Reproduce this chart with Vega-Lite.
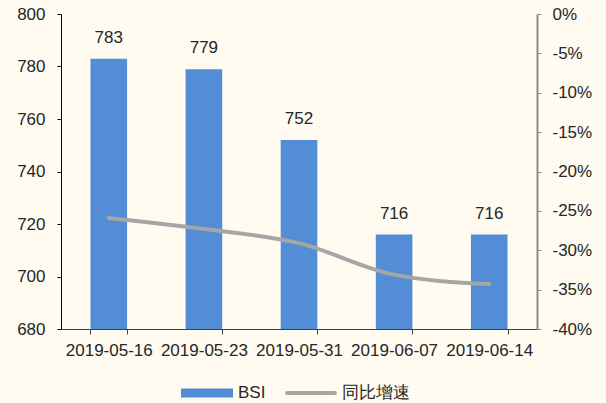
{
  "$schema": "https://vega.github.io/schema/vega-lite/v6.json",
  "width": 476,
  "height": 315,
  "autosize": {"type": "none"},
  "padding": {"left": 61, "top": 14, "right": 69, "bottom": 74},
  "background": "#FFFBF0",
  "config": {
    "view": {"stroke": null},
    "font": "Liberation Sans",
    "axis": {"grid": false, "labelFontSize": 17, "labelColor": "#262626", "title": null, "labelFont": "Liberation Sans"}
  },
  "data": {
    "values": [
      {"date": "2019-05-16", "bsi": 783, "yoy": -0.259},
      {"date": "2019-05-23", "bsi": 779, "yoy": -0.273},
      {"date": "2019-05-31", "bsi": 752, "yoy": -0.291},
      {"date": "2019-06-07", "bsi": 716, "yoy": -0.331},
      {"date": "2019-06-14", "bsi": 716, "yoy": -0.343}
    ]
  },
  "encoding": {
    "x": {
      "field": "date",
      "type": "nominal",
      "sort": null,
      "scale": {"paddingInner": 0.615, "paddingOuter": 0.31},
      "axis": {
        "labelAngle": 0,
        "tickBand": "extent",
        "domainColor": "#404040",
        "tickColor": "#404040",
        "tickSize": 5,
        "labelPadding": 8
      }
    }
  },
  "layer": [
    {
      "encoding": {
        "y": {
          "field": "bsi",
          "type": "quantitative",
          "scale": {"domain": [680, 800], "zero": false},
          "axis": {
            "orient": "left",
            "values": [680, 700, 720, 740, 760, 780, 800],
            "domainColor": "#000000",
            "tickColor": "#000000",
            "tickSize": 4,
            "labelPadding": 12
          }
        }
      },
      "layer": [
        {
          "mark": {"type": "bar", "clip": true},
          "encoding": {
            "color": {
              "datum": "BSI",
              "type": "nominal",
              "scale": {"domain": ["BSI", "同比增速"], "range": ["#538DD5", "#A6A6A6"]},
              "legend": {
                "title": null,
                "orient": "none",
                "direction": "horizontal",
                "legendX": 120,
                "legendY": 353,
                "symbolType": "M-1,-0.173H1V0.173H-1Z",
                "symbolSize": 2704,
                "symbolStrokeWidth": 0,
                "labelFontSize": 17,
                "labelFont": "Liberation Sans",
                "labelColor": "#262626",
                "labelOffset": 5,
                "columnPadding": 19,
                "encode": {
                  "symbols": {
                    "update": {
                      "shape": {"signal": "datum.value === 'BSI' ? 'M-1,-0.173H1V0.173H-1Z' : 'M-0.92,-0.077H0.92A0.077,0.077 0 0 1 0.92,0.077H-0.92A0.077,0.077 0 0 1 -0.92,-0.077Z'"},
                      "size": {"value": 2704},
                      "strokeWidth": {"value": 0},
                      "fill": {"signal": "datum.value === 'BSI' ? '#538DD5' : '#A6A6A6'"},
                      "stroke": {"value": "transparent"},
                      "opacity": {"value": 1}
                    }
                  }
                }
              }
            }
          }
        },
        {
          "mark": {"type": "text", "baseline": "bottom", "dy": -12, "fontSize": 17, "color": "#262626"},
          "encoding": {"text": {"field": "bsi", "type": "quantitative"}}
        }
      ]
    },
    {
      "mark": {"type": "line", "interpolate": "monotone", "strokeWidth": 4, "strokeCap": "round"},
      "encoding": {
        "y": {
          "field": "yoy",
          "type": "quantitative",
          "scale": {"domain": [-0.4, 0]},
          "axis": {
            "orient": "right",
            "values": [-0.4, -0.35, -0.3, -0.25, -0.2, -0.15, -0.1, -0.05, 0],
            "labelExpr": "(datum.value < -0.0001 ? '-' : '') + format(abs(datum.value) * 100, '.0f') + '%'",
            "domainColor": "#8C8C8C",
            "domainWidth": 2,
            "tickColor": "#8C8C8C",
            "tickSize": 4,
            "labelPadding": 11
          }
        },
        "color": {"datum": "同比增速", "type": "nominal"}
      }
    }
  ],
  "resolve": {"scale": {"y": "independent"}}
}
